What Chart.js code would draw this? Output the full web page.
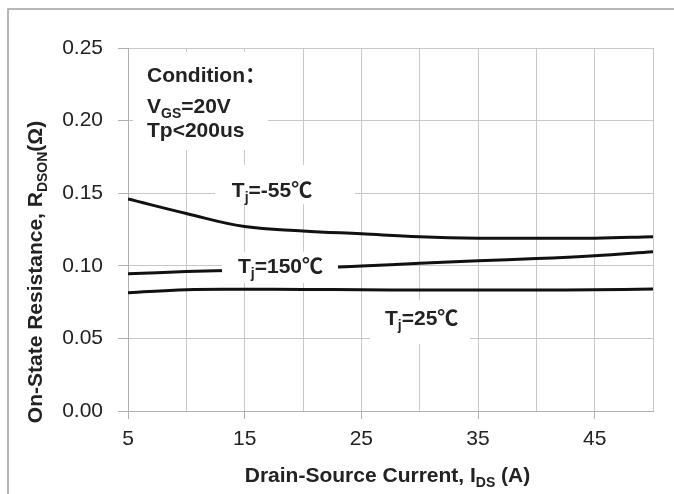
<!DOCTYPE html>
<html>
<head>
<meta charset="utf-8">
<script src="https://cdn.jsdelivr.net/npm/chart.js@4"></script>
<style>
  body { margin: 0; background: #fff; }
</style>
</head>
<body>
<canvas id="grafico" width="674" height="494"></canvas>
<script>
// dados
const currents = [5, 10, 15, 20, 25, 30, 35, 40, 45, 50];
const rTjMinus55 = [0.146, 0.136, 0.127, 0.124, 0.122, 0.120, 0.119, 0.119, 0.119, 0.120];
const rTj150 = [0.0945, 0.096, 0.097, 0.098, 0.0999, 0.1017, 0.1035, 0.105, 0.107, 0.1097];
const rTj25 = [0.0815, 0.0835, 0.0838, 0.0837, 0.0835, 0.0833, 0.0833, 0.0833, 0.0835, 0.084];
const xTickLabels = [5, 15, 25, 35, 45];
const yTickLabels = ['0.00', '0.05', '0.10', '0.15', '0.20', '0.25'];

const FONT = '"Liberation Sans", Arial, "Noto Sans CJK SC", sans-serif';
const TEXT = '#222';

// texto com subscrito: parts = [[texto, sub?], ...]
function drawParts(ctx, parts, x, y, size, align) {
    const widths = parts.map(p => {
        ctx.font = 'bold ' + (p[1] ? Math.round(size * 0.68) : size) + 'px ' + FONT;
        return ctx.measureText(p[0]).width;
    });
    const total = widths.reduce((a, b) => a + b, 0);
    let cx = align === 'center' ? x - total / 2 : x;
    ctx.textAlign = 'left';
    ctx.textBaseline = 'alphabetic';
    ctx.fillStyle = TEXT;
    parts.forEach((p, i) => {
        ctx.font = 'bold ' + (p[1] ? Math.round(size * 0.68) : size) + 'px ' + FONT;
        ctx.fillText(p[0], cx, y + (p[1] ? size * 0.22 : 0));
        cx += widths[i];
    });
}

// caixas brancas e textos dentro do gráfico (em unidades dos eixos)
const notes = [
    { box: [5.43, 17.0, 0.2473, 0.1797], lines: [
        { x: 6.63, y: 0.2266, parts: [['Condition：', false]] },
        { x: 6.63, y: 0.2052, parts: [['V', false], ['GS', true], ['=20V', false]] },
        { x: 6.63, y: 0.1887, parts: [['Tp<200us', false]] }
    ] },
    { box: [12.46, 24.46, 0.1694, 0.1426], lines: [
        { x: 13.9, y: 0.1474, parts: [['T', false], ['j', true], ['=-55℃', false]] }
    ] },
    { box: [13.06, 23.0, 0.1095, 0.0882], lines: [
        { x: 14.43, y: 0.0950, parts: [['T', false], ['j', true], ['=150℃', false]] }
    ] },
    { box: [25.74, 34.31, 0.0764, 0.0461], lines: [
        { x: 27.03, y: 0.0592, parts: [['T', false], ['j', true], ['=25℃', false]] }
    ] }
];

const extras = {
    id: 'extras',
    beforeDraw(chart) {
        const ctx = chart.ctx;
        ctx.save();
        ctx.strokeStyle = '#a0a0a0';
        ctx.lineWidth = 1.5;
        ctx.beginPath();
        ctx.moveTo(8, 494);
        ctx.lineTo(8, 9);
        ctx.lineTo(674, 9);
        ctx.stroke();
        ctx.restore();
    },
    afterDatasetsDraw(chart) {
        const ctx = chart.ctx;
        const xs = chart.scales.x, ys = chart.scales.y;
        const area = chart.chartArea;
        ctx.save();
        notes.forEach(n => {
            const x1 = xs.getPixelForValue(n.box[0]), x2 = xs.getPixelForValue(n.box[1]);
            const y1 = ys.getPixelForValue(n.box[2]), y2 = ys.getPixelForValue(n.box[3]);
            ctx.fillStyle = '#fff';
            ctx.fillRect(x1, y1, x2 - x1, y2 - y1);
            n.lines.forEach(l => {
                drawParts(ctx, l.parts, xs.getPixelForValue(l.x), ys.getPixelForValue(l.y), 21, 'left');
            });
        });
        // títulos dos eixos
        drawParts(ctx, [['Drain-Source Current, I', false], ['DS', true], [' (A)', false]],
            (area.left + area.right) / 2 - 3, 482, 21, 'center');
        ctx.save();
        ctx.translate(42, 272);
        ctx.rotate(-Math.PI / 2);
        drawParts(ctx, [['On-State Resistance, R', false], ['DSON', true], ['(Ω)', false]], 0, 0, 21, 'center');
        ctx.restore();
        ctx.restore();
    }
};

function serie(values) {
    return {
        data: currents.map((c, i) => ({ x: c, y: values[i] })),
        borderColor: '#111',
        borderWidth: 3,
        pointRadius: 0,
        tension: 0.4,
        fill: false
    };
}

const grafico = new Chart(document.getElementById('grafico').getContext('2d'), {
    type: 'line',
    data: {
        datasets: [serie(rTjMinus55), serie(rTj150), serie(rTj25)]
    },
    options: {
        responsive: false,
        animation: false,
        layout: { padding: { top: 48, right: 21, left: 0, bottom: 0 } },
        plugins: { legend: { display: false }, tooltip: { enabled: false } },
        scales: {
            x: {
                type: 'linear',
                min: 5,
                max: 50,
                afterFit: s => { s.height = 83; },
                grid: {
                    color: '#c8c8c8',
                    tickLength: 8,
                    tickColor: c => (xTickLabels.includes(c.tick.value) ? '#b0b0b0' : 'rgba(0,0,0,0)')
                },
                border: { color: '#b0b0b0' },
                ticks: {
                    stepSize: 5,
                    autoSkip: false,
                    maxRotation: 0,
                    padding: 8,
                    color: TEXT,
                    font: { family: FONT, size: 21 },
                    callback: v => (xTickLabels.includes(v) ? String(v) : '')
                }
            },
            y: {
                min: 0,
                max: 0.25,
                afterFit: s => { s.width = 128; },
                grid: { color: '#c8c8c8', tickLength: 10, tickColor: '#b0b0b0' },
                border: { color: '#b0b0b0' },
                ticks: {
                    stepSize: 0.05,
                    padding: 15,
                    color: TEXT,
                    font: { family: FONT, size: 21 },
                    callback: (v, i) => yTickLabels[i]
                }
            }
        }
    },
    plugins: [extras]
});
</script>
</body>
</html>
